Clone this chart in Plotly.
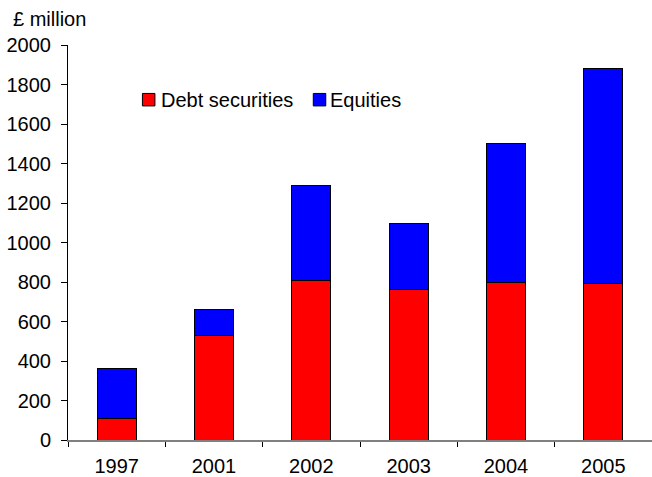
import plotly.graph_objects as go

# Funds raised by year, £ million
years = ["1997", "2001", "2002", "2003", "2004", "2005"]
debt_securities = [110, 530, 810, 760, 800, 790]
equities = [250, 130, 480, 335, 700, 1090]

y_ticks = [0, 200, 400, 600, 800, 1000, 1200, 1400, 1600, 1800, 2000]

FONT = "Arial, Liberation Sans, sans-serif"
W, H = 652, 477
ML, MR, MT, MB = 67.5, 0, 45, 36.5
PW, PH = W - ML - MR, H - MT - MB


def px_x(px):
    return (px - ML) / PW


def px_y(py):
    return (H - MB - py) / PH


fig = go.Figure()
fig.add_trace(go.Bar(
    x=years, y=debt_securities, name="Debt securities",
    marker=dict(color="#FF0000", line=dict(color="#000000", width=1)),
    showlegend=False,
))
fig.add_trace(go.Bar(
    x=years, y=equities, name="Equities",
    marker=dict(color="#0000FF", line=dict(color="#000000", width=1)),
    showlegend=False,
))

# Legend drawn as swatches + labels inside the plot area
legend_items = [("Debt securities", "#FF0000", 142, 159), ("Equities", "#0000FF", 313, 328)]
for label, color, sx, tx in legend_items:
    fig.add_shape(
        type="rect", xref="paper", yref="paper",
        x0=px_x(sx), x1=px_x(sx + 12.5), y0=px_y(93.5), y1=px_y(106),
        fillcolor=color, line=dict(color="#000000", width=1),
    )
    fig.add_annotation(
        text=label, xref="paper", yref="paper",
        x=px_x(tx), y=px_y(100), xanchor="left", yanchor="middle",
        showarrow=False, font=dict(family=FONT, size=20, color="#000000"),
    )

fig.add_annotation(
    text="£ million", xref="paper", yref="paper",
    x=px_x(10), y=px_y(19), xanchor="left", yanchor="middle",
    showarrow=False, font=dict(family=FONT, size=20, color="#000000"),
)

fig.update_layout(
    width=W, height=H,
    margin=dict(l=ML, r=MR, t=MT, b=MB, pad=0, autoexpand=False),
    barmode="stack", bargap=0.6,
    paper_bgcolor="#FFFFFF", plot_bgcolor="#FFFFFF",
    font=dict(family=FONT, size=20, color="#000000"),
    xaxis=dict(
        type="category", showgrid=False, zeroline=False, automargin=False,
        showline=True, linecolor="#808080", linewidth=1.5,
        ticks="outside", tickson="boundaries", ticklen=5, tickcolor="#000000",
        tickwidth=1, ticklabelstandoff=7,
    ),
    yaxis=dict(
        range=[0, 2000], tickvals=y_ticks, showgrid=False, zeroline=False,
        automargin=False,
        showline=True, linecolor="#000000", linewidth=1,
        ticks="outside", ticklen=6, tickcolor="#000000", tickwidth=1,
        ticklabelstandoff=6,
    ),
)

fig.write_html("out.html")
